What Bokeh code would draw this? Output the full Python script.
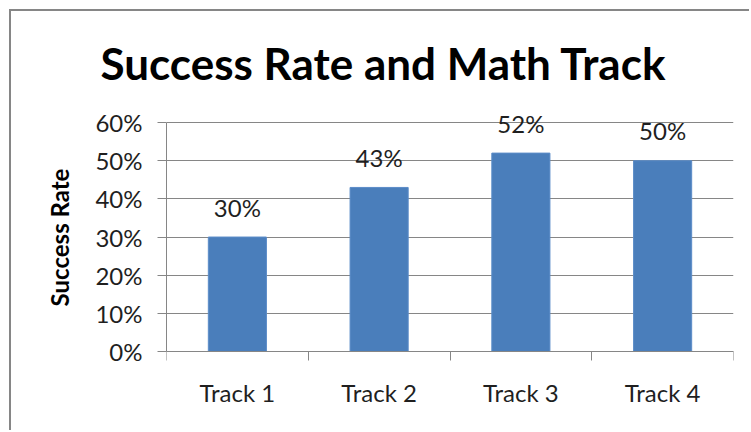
from bokeh.plotting import figure
from bokeh.models import (FixedTicker, Range1d, NumeralTickFormatter, ColumnDataSource, LinearAxis)
from bokeh.core.properties import value
from bokeh.embed import file_html
from bokeh.resources import INLINE

categories = ["Track 1", "Track 2", "Track 3", "Track 4"]
success_rate = [0.30, 0.43, 0.52, 0.50]
value_labels = ["30%", "43%", "52%", "50%"]
y_ticks = [0.0, 0.1, 0.2, 0.3, 0.4, 0.5, 0.6]

FONT = "Lato"
positions = [i + 1 for i in range(len(categories))]
boundaries = [i + 0.5 for i in range(len(categories) + 1)]
src = ColumnDataSource(dict(x=positions, top=success_rate, lab=value_labels))

p = figure(width=740, height=421, output_backend="svg", toolbar_location=None,
           x_range=Range1d(0.5, len(categories) + 0.5), y_range=Range1d(-0.0524, 0.65),
           min_border_left=155, min_border_right=18, min_border_top=92, min_border_bottom=61)
p.margin = (9, 0, 0, 9)
p.styles = {"border-top": "2px solid #868686", "border-left": "2px solid #868686"}
p.background_fill_color = "white"
p.border_fill_color = "white"
p.outline_line_color = None

p.title.text = "Success Rate and Math Track"
p.title.align = "left"
p.title.offset = -66
p.title.text_font = FONT
p.title.text_font_style = "bold"
p.title.text_font_size = "44px"
p.title.text_color = "#000000"
p.title.standoff = 29

p.vbar(x="x", top="top", bottom=0, width=0.41, source=src, fill_color="#4A7EBB", line_color="#5B8CC8")
p.text(x="x", y="top", text="lab", source=src, y_offset=-30, text_align="center",
       text_baseline="alphabetic", text_font=value(FONT), text_font_size="24px", text_color="#1f1f1f")

# x axis labels (category names)
xa = p.xaxis[0]
xa.ticker = FixedTicker(ticks=positions)
xa.major_label_overrides = {pos: c for pos, c in zip(positions, categories)}
xa.major_tick_line_color = None
xa.major_tick_out = 0
xa.major_tick_in = 0
xa.minor_tick_line_color = None
xa.axis_line_color = None
xa.major_label_text_font = FONT
xa.major_label_text_font_size = "24px"
xa.major_label_text_color = "#1f1f1f"
xa.major_label_standoff = 6
p.xgrid.grid_line_color = None

# x axis line and category-boundary ticks, sitting at the 0% line
xline = LinearAxis(fixed_location=0,
                   ticker=FixedTicker(ticks=[], minor_ticks=boundaries))
xline.major_label_text_font_size = "1px"
xline.major_label_text_alpha = 0
xline.major_label_standoff = 0
xline.major_tick_line_color = None
xline.minor_tick_line_color = "#868686"
xline.minor_tick_out = 9
xline.minor_tick_in = 0
xline.axis_line_color = "#868686"
p.add_layout(xline, "below")

# y axis
ya = p.yaxis[0]
ya.ticker = FixedTicker(ticks=y_ticks)
ya.bounds = (0, 0.6)
ya.formatter = NumeralTickFormatter(format="0%")
ya.major_tick_out = 9
ya.major_tick_in = 0
ya.minor_tick_line_color = None
ya.major_tick_line_color = "#868686"
ya.axis_line_color = "#868686"
ya.major_label_text_font = FONT
ya.major_label_text_font_size = "24px"
ya.major_label_text_color = "#1f1f1f"
ya.major_label_standoff = 15
ya.axis_label = "Success Rate"
ya.axis_label_text_font = FONT
ya.axis_label_text_font_style = "bold"
ya.axis_label_text_font_size = "24px"
ya.axis_label_text_color = "#000000"
ya.axis_label_standoff = 18
p.ygrid.grid_line_color = "#868686"
p.ygrid.ticker = FixedTicker(ticks=y_ticks)

open("out.html", "w").write(file_html(p, INLINE))
